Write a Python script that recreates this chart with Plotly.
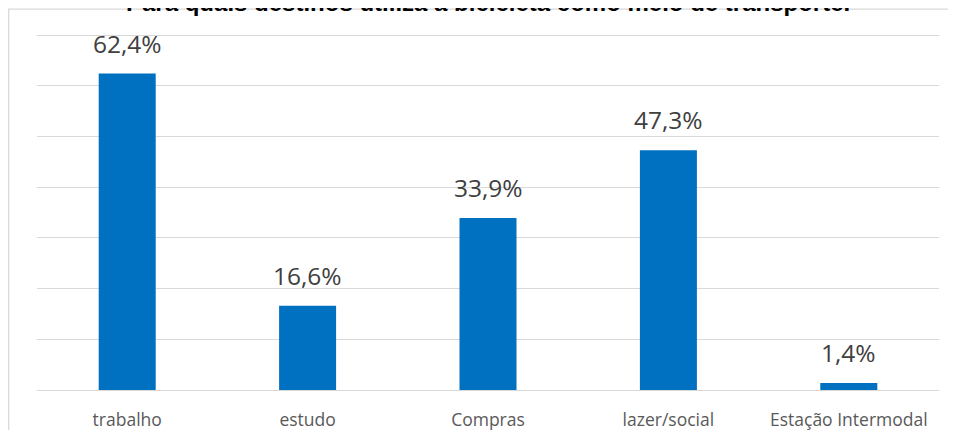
import plotly.graph_objects as go

categories = ["trabalho", "estudo", "Compras", "lazer/social", "Estação Intermodal"]
values = [62.4, 16.6, 33.9, 47.3, 1.4]
title_text = "Para quais destinos utiliza a bicicleta como meio de transporte."

# The page body adds an 8px offset, so the figure is sized to fit the window
W, H = 948, 422
ML, MR, MT, MB = 29, 17, 26, 40
PW, PH = W - ML - MR, H - MT - MB

fig = go.Figure()
fig.add_trace(go.Bar(
    x=categories, y=values,
    marker=dict(color="#0070C0", line=dict(width=0)),
    width=0.316,
    hoverinfo="x+y",
))

for c, v in zip(categories, values):
    fig.add_annotation(
        x=c, y=v, xref="x", yref="y",
        text=f"{v:.1f}%".replace(".", ","),
        showarrow=False, yanchor="bottom", yshift=12,
        font=dict(family="Open Sans, sans-serif", size=24.5, color="#404040"),
    )

fig.add_annotation(
    x=0.5, y=1, xref="paper", yref="paper",
    text=f"<b>{title_text}</b>", showarrow=False,
    yanchor="bottom", yshift=16,
    font=dict(family="Liberation Sans, Arial, sans-serif", size=24, color="#000000"),
)

fig.add_shape(
    type="rect", xref="paper", yref="paper",
    x0=(0.7 - ML) / PW, x1=(W + 5 - ML) / PW,
    y0=-(MB + 5) / PH, y1=(H - MB - 1.2) / PH,
    line=dict(color="#D9D9D9", width=1.3), fillcolor="rgba(0,0,0,0)",
    layer="above",
)

fig.update_layout(
    width=W, height=H,
    margin=dict(l=ML, r=MR, t=MT, b=MB, autoexpand=False),
    paper_bgcolor="white", plot_bgcolor="white",
    showlegend=False,
    bargap=0.684,
    xaxis=dict(
        showline=True, linecolor="#D9D9D9", linewidth=1.3, automargin=False,
        showgrid=False, ticks="", ticklabelstandoff=14,
        tickfont=dict(family="Open Sans, sans-serif", size=17.5, color="#595959"),
    ),
    yaxis=dict(
        range=[0, 70.2], dtick=10, showticklabels=False, automargin=False,
        showgrid=True, gridcolor="#D9D9D9", gridwidth=1.3,
        zeroline=False, showline=False, ticks="",
    ),
)

fig.write_html("out.html")
